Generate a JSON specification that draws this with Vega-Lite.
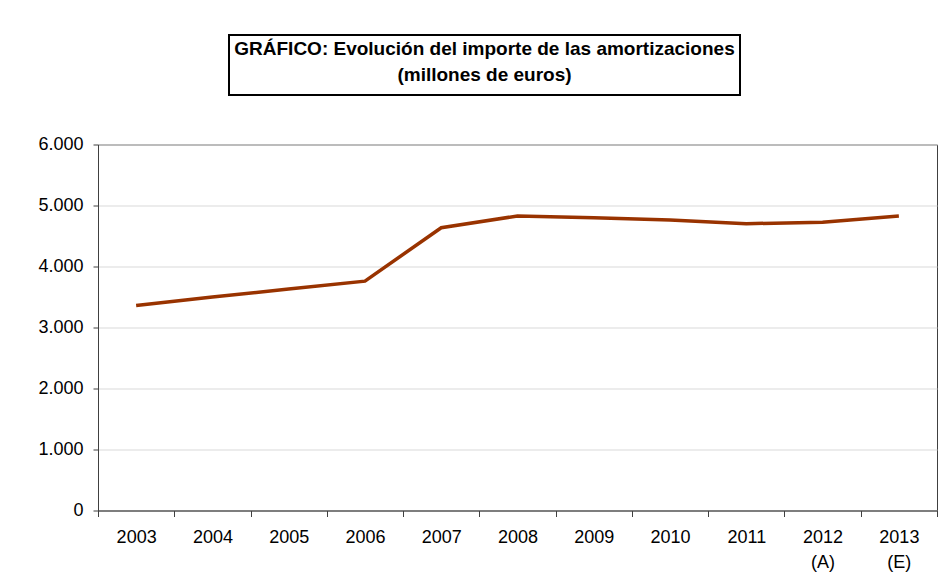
{
  "$schema": "https://vega.github.io/schema/vega-lite/v6.json",
  "padding": {"left": 37, "top": 34, "right": 0, "bottom": 0},
  "background": "white",
  "config": {"font": "Liberation Sans"},
  "spacing": 38.5,
  "vconcat": [
    {
      "spacing": 0,
      "hconcat": [
        {
          "width": 130,
          "height": 60,
          "data": {"values": []},
          "mark": "point",
          "encoding": {},
          "view": {"stroke": null}
        },
        {
          "width": 511,
          "height": 60,
          "data": {"values": [{"t": "GRÁFICO: Evolución del importe de las amortizaciones\n(millones de euros)"}]},
          "mark": {"type": "text", "lineBreak": "\n", "fontSize": 19, "fontWeight": "bold", "lineHeight": 26, "font": "Liberation Sans", "color": "black", "baseline": "middle", "align": "center", "dy": -16},
          "encoding": {"text": {"field": "t", "type": "nominal"}},
          "view": {"stroke": "black", "strokeWidth": 2}
        }
      ]
    },
    {
      "width": 839,
      "height": 366,
      "data": {"values": [
        {"year": "2003", "value": 3360},
        {"year": "2004", "value": 3500},
        {"year": "2005", "value": 3630},
        {"year": "2006", "value": 3760},
        {"year": "2007", "value": 4636},
        {"year": "2008", "value": 4828},
        {"year": "2009", "value": 4800},
        {"year": "2010", "value": 4762},
        {"year": "2011", "value": 4702},
        {"year": "2012 (A)", "value": 4725},
        {"year": "2013 (E)", "value": 4828}
      ]},
      "mark": {"type": "line", "color": "#993300", "strokeWidth": 3.5},
      "encoding": {
        "x": {
          "field": "year", "type": "nominal", "sort": null, "bandPosition": 0.5,
          "scale": {"type": "band", "paddingInner": 0, "paddingOuter": 0},
          "axis": {"title": null, "labelAngle": 0, "tickBand": "extent", "labelExpr": "split(datum.label, ' ')", "labelFontSize": 18, "labelColor": "black", "labelPadding": 12, "tickSize": 6, "tickColor": "#404040", "domainColor": "#404040", "grid": false, "labelLineHeight": 25, "labelBaseline": "top"}
        },
        "y": {
          "field": "value", "type": "quantitative",
          "scale": {"domain": [0, 6000]},
          "axis": {"title": null, "values": [0, 1000, 2000, 3000, 4000, 5000, 6000], "labelExpr": "replace(format(datum.value, ','), ',', '.')", "labelFontSize": 18, "labelColor": "black", "labelPadding": 10, "tickSize": 5, "tickColor": "#404040", "domainColor": "#404040", "gridColor": "#d9d9d9", "gridWidth": 1}
        }
      },
      "view": {"stroke": "#404040"}
    }
  ]
}
